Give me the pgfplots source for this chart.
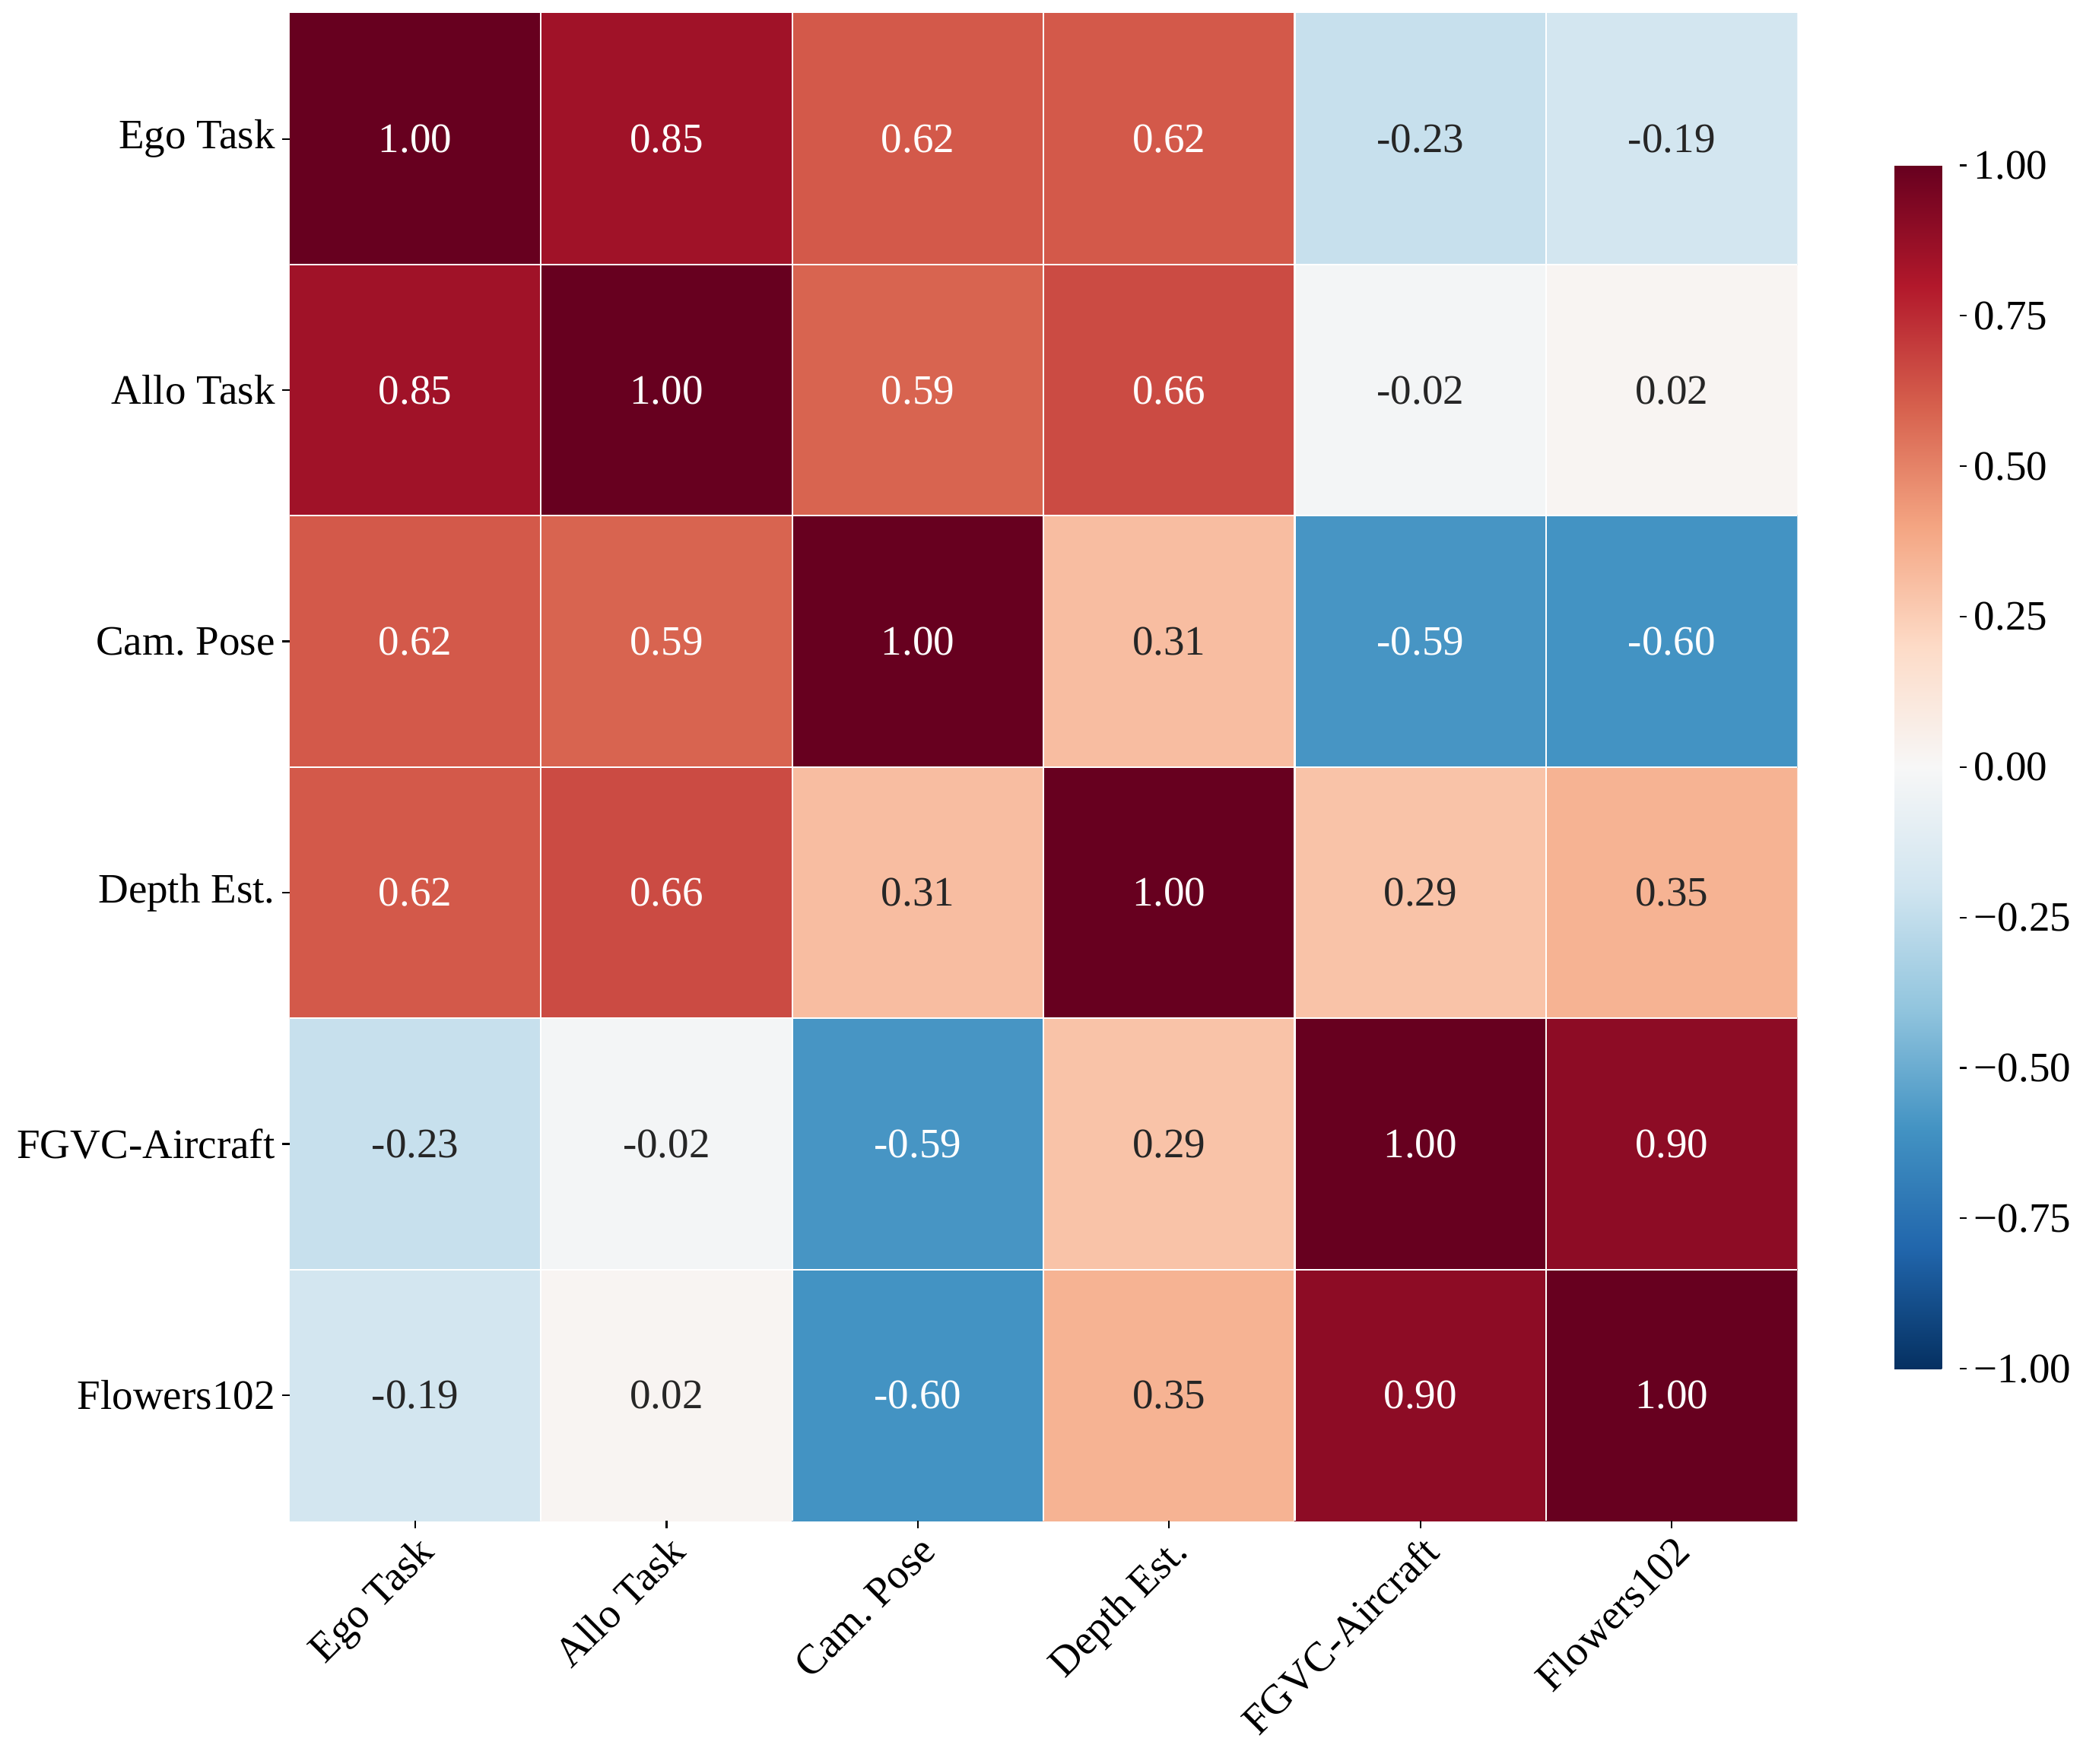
\documentclass[border=0pt]{standalone}
\usepackage{pgfplots}
\pgfplotsset{compat=1.18}
\usepackage{pgfplotstable}
\usepackage{fontspec}
\setmainfont{Liberation Serif}
\usetikzlibrary{calc}
\definecolor{textdark}{RGB}{38,38,38}
\newcommand{\lblfont}{\fontsize{12.6}{15}\selectfont}

% rows: y=5 Ego Task (top) ... y=0 Flowers102 (bottom)
\pgfplotstableread{
x y v lbl
0 0 -0.19 -0.19
1 0 0.02 0.02
2 0 -0.60 -0.60
3 0 0.35 0.35
4 0 0.90 0.90
5 0 1.00 1.00
0 1 -0.23 -0.23
1 1 -0.02 -0.02
2 1 -0.59 -0.59
3 1 0.29 0.29
4 1 1.00 1.00
5 1 0.90 0.90
0 2 0.62 0.62
1 2 0.66 0.66
2 2 0.31 0.31
3 2 1.00 1.00
4 2 0.29 0.29
5 2 0.35 0.35
0 3 0.62 0.62
1 3 0.59 0.59
2 3 1.00 1.00
3 3 0.31 0.31
4 3 -0.59 -0.59
5 3 -0.60 -0.60
0 4 0.85 0.85
1 4 1.00 1.00
2 4 0.59 0.59
3 4 0.66 0.66
4 4 -0.02 -0.02
5 4 0.02 0.02
0 5 1.00 1.00
1 5 0.85 0.85
2 5 0.62 0.62
3 5 0.62 0.62
4 5 -0.23 -0.23
5 5 -0.19 -0.19
}\cells

\begin{document}
\frenchspacing
\begin{tikzpicture}
\begin{axis}[
  name=main,
  width=454pt, height=454pt, scale only axis,
  xmin=-0.5, xmax=5.5, ymin=-0.5, ymax=5.5,
  enlargelimits=false,
  axis on top,
  axis x line*=bottom, axis y line*=left,
  axis line style={draw=none},
  xtick={0,1,2,3,4,5}, ytick={0,1,2,3,4,5},
  xticklabels={Ego Task, Allo Task, Cam.\ Pose, Depth Est., FGVC-Aircraft, Flowers102},
  yticklabels={Flowers102, FGVC-Aircraft, Depth Est., Cam.\ Pose, Allo Task, Ego Task},
  tick align=outside, major tick length=2.2pt,
  major tick style={black, line width=0.5pt},
  minor xtick={0.5,1.5,2.5,3.5,4.5}, minor ytick={0.5,1.5,2.5,3.5,4.5},
  minor tick length=0pt,
  grid=minor, minor grid style={white, line width=0.5pt},
  tick label style={font=\lblfont, text=black},
  xticklabel style={rotate=45, anchor=north east, inner sep=1pt},
  yticklabel style={inner sep=2pt},
  colormap={rdbu}{rgb255(0)=(5,48,97) rgb255(1)=(33,102,172) rgb255(2)=(67,147,195) rgb255(3)=(146,197,222) rgb255(4)=(209,229,240) rgb255(5)=(247,247,247) rgb255(6)=(253,219,199) rgb255(7)=(244,165,130) rgb255(8)=(214,96,77) rgb255(9)=(178,24,43) rgb255(10)=(103,0,31)},
  point meta min=-1, point meta max=1,
  colorbar right,
  colorbar style={
    scale only axis,
    width=19.6pt, height=362.4pt,
    at={(parent axis.east)}, anchor=west, xshift=20.7pt,
    ytick={-1,-0.75,-0.5,-0.25,0,0.25,0.5,0.75,1},
    yticklabels={−1.00,−0.75,−0.50,−0.25,0.00,0.25,0.50,0.75,1.00},
    ytick pos=right, yticklabel pos=right,
    axis line style={draw=none},
    tick align=outside, major tick length=2.2pt,
    major tick style={black, line width=0.5pt},
    yticklabel style={font=\lblfont, inner sep=2pt},
  },
]
\addplot[matrix plot*, mesh/cols=6, point meta=explicit] table[x=x, y=y, meta=v]{\cells};
\addplot[draw=none, mark=none, point meta=explicit symbolic,
  nodes near coords={\lblfont\pgfplotspointmeta}, nodes near coords align=center,
  every node near coord/.append style={anchor=center, text=white},
  restrict expr to domain={abs(\thisrow{v})}{0.5:2}]
  table[x=x, y=y, meta=lbl]{\cells};
\addplot[draw=none, mark=none, point meta=explicit symbolic,
  nodes near coords={\lblfont\pgfplotspointmeta}, nodes near coords align=center,
  every node near coord/.append style={anchor=center, text=textdark},
  restrict expr to domain={abs(\thisrow{v})}{0:0.5}]
  table[x=x, y=y, meta=lbl]{\cells};
\end{axis}
\pgfresetboundingbox
\path[use as bounding box] ($(main.south west)+(-87.2pt,-73.2pt)$) rectangle ($(main.north east)+(86pt,4pt)$);
\end{tikzpicture}
\end{document}
